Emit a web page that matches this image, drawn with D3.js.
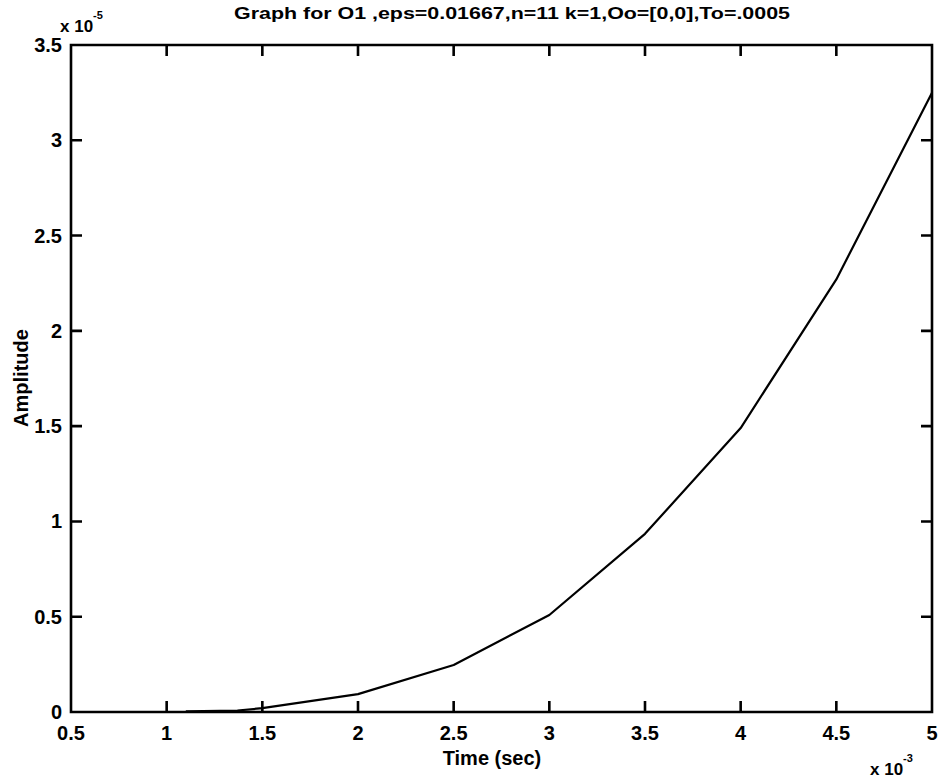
<!DOCTYPE html>
<html><head><meta charset="utf-8">
<script src="https://cdn.jsdelivr.net/npm/d3@7/dist/d3.min.js"></script>
<style>
html,body{margin:0;padding:0;background:#fff;}
text{font-family:"Liberation Sans",Arial,Helvetica,sans-serif;font-weight:bold;fill:#000;}
</style></head>
<body>
<svg id="chart" width="945" height="783"></svg>
<script>
// Time in units of 1e-3 s, amplitude in units of 1e-5
const timeValues = [1.1, 1.37, 1.5, 2.0, 2.5, 3.0, 3.5, 4.0, 4.5, 5.0];
const amplitudeValues = [0.004, 0.008, 0.02, 0.094, 0.247, 0.509, 0.935, 1.49, 2.27, 3.25];
const xTicks = [0.5, 1, 1.5, 2, 2.5, 3, 3.5, 4, 4.5, 5];
const xTickLabels = ["0.5", "1", "1.5", "2", "2.5", "3", "3.5", "4", "4.5", "5"];
const yTicks = [0, 0.5, 1, 1.5, 2, 2.5, 3, 3.5];
const yTickLabels = ["0", "0.5", "1", "1.5", "2", "2.5", "3", "3.5"];
const titleText = "Graph for O1 ,eps=0.01667,n=11 k=1,Oo=[0,0],To=.0005";
const xLabelText = "Time (sec)";
const yLabelText = "Amplitude";

const svg = d3.select("#chart");
const L = 71, R = 932, T = 45, B = 712;
const x = d3.scaleLinear().domain([0.5, 5]).range([L, R]);
const y = d3.scaleLinear().domain([0, 3.5]).range([B, T]);
const tickLen = 11;

// frame with inward tick marks on all four sides, one path built from the scales
const p = d3.path();
p.moveTo(L, T); p.lineTo(R, T); p.lineTo(R, B); p.lineTo(L, B); p.closePath();
xTicks.forEach(t => {
  p.moveTo(x(t), B); p.lineTo(x(t), B - tickLen);
  p.moveTo(x(t), T); p.lineTo(x(t), T + tickLen);
});
yTicks.forEach(t => {
  p.moveTo(L, y(t)); p.lineTo(L + tickLen, y(t));
  p.moveTo(R, y(t)); p.lineTo(R - tickLen, y(t));
});
svg.append("path").attr("d", p.toString()).attr("fill", "none")
  .attr("stroke", "#000").attr("stroke-width", 2.6);

// tick labels
svg.append("g").selectAll("text").data(xTicks).join("text")
  .attr("x",d=>x(d)).attr("y",B+28).attr("text-anchor","middle")
  .attr("font-size",20).text((d,i)=>xTickLabels[i]);
svg.append("g").selectAll("text").data(yTicks).join("text")
  .attr("x",L-9).attr("y",d=>y(d)+7).attr("text-anchor","end")
  .attr("font-size",20).text((d,i)=>yTickLabels[i]);

// line
const line = d3.line().x((d,i)=>x(timeValues[i])).y(d=>y(d));
svg.append("path").datum(amplitudeValues).attr("d",line)
  .attr("fill","none").attr("stroke","#000").attr("stroke-width",2.2)
  .attr("stroke-linejoin","round");

// title
svg.append("text").attr("x",512).attr("y",19).attr("text-anchor","middle")
  .attr("font-size",16).attr("textLength",556).attr("lengthAdjust","spacingAndGlyphs")
  .text(titleText);
// x label
svg.append("text").attr("x",492).attr("y",765).attr("text-anchor","middle")
  .attr("font-size",20).text(xLabelText);
// y label
svg.append("text").attr("transform","translate(28,378) rotate(-90)").attr("text-anchor","middle")
  .attr("font-size",20).text(yLabelText);

// exponents
const e1 = svg.append("text").attr("x",60).attr("y",32).attr("font-size",17);
e1.append("tspan").text("x 10");
e1.append("tspan").attr("dy","-13").attr("font-size",11).text("-5");
const e2 = svg.append("text").attr("x",870).attr("y",775).attr("font-size",17);
e2.append("tspan").text("x 10");
e2.append("tspan").attr("dy","-13").attr("font-size",11).text("-3");
</script>
</body></html>
